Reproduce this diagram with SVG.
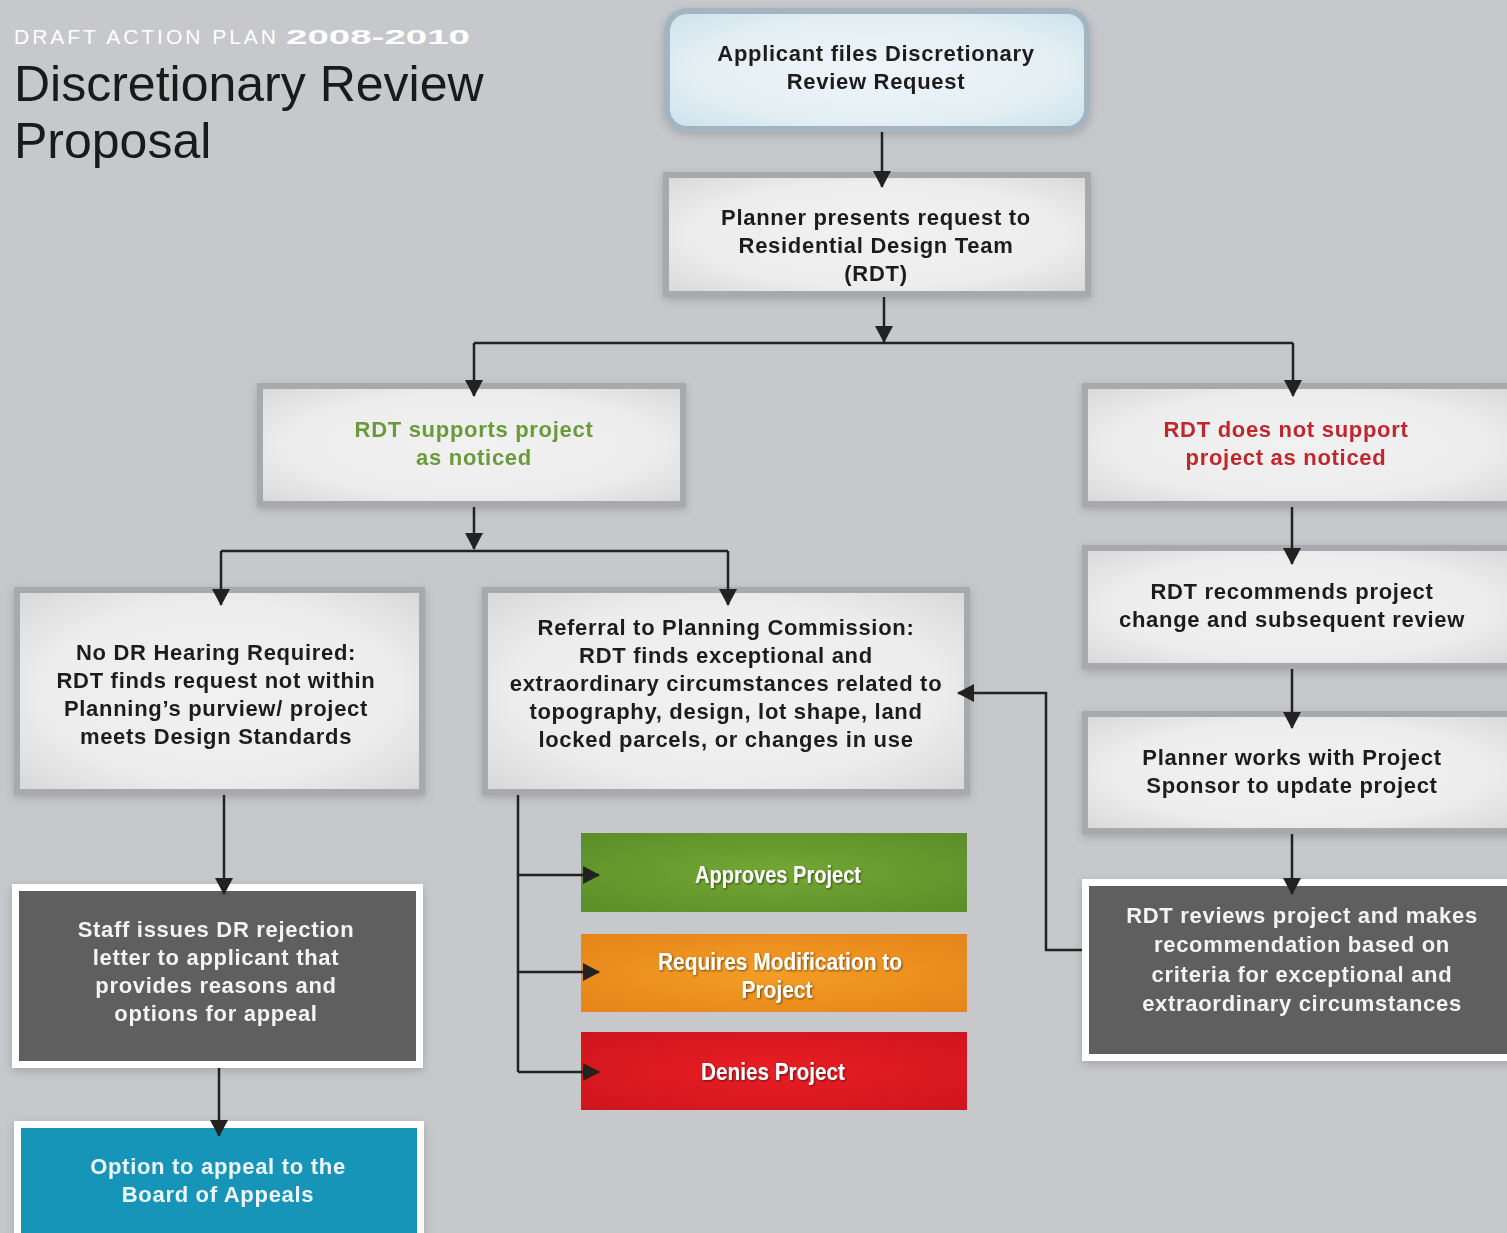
<svg xmlns="http://www.w3.org/2000/svg" width="1507" height="1233" viewBox="0 0 1507 1233">
  <defs>
    <style>
      .bt { font-family: "Liberation Sans", Arial, sans-serif; font-weight: bold; font-size: 22px; letter-spacing: 0.7px; text-anchor: middle; }
      .dark { fill: #1e1e1e; }
      .white { fill: #f4f4f4; }
      .ct { font-family: "Liberation Sans Narrow", "Liberation Sans", Arial, sans-serif; font-weight: bold; font-size: 23px; fill: #ffffff; text-anchor: middle; }
      .light { stroke: #a7a9ac; stroke-width: 6; fill: url(#lightFill); }
      .darkbox { stroke: #ffffff; stroke-width: 7; fill: #5e5e5e; }
      .conn { fill: none; stroke: #222222; stroke-width: 2.5; }
      .arrow { marker-end: url(#ah); }
    </style>
    <radialGradient id="lightFill" cx="50%" cy="50%" r="72%">
      <stop offset="0" stop-color="#f1f1f1"/>
      <stop offset="0.6" stop-color="#ededed"/>
      <stop offset="1" stop-color="#d6d6d6"/>
    </radialGradient>
    <radialGradient id="blueFill" cx="50%" cy="50%" r="72%">
      <stop offset="0" stop-color="#eef5f8"/>
      <stop offset="0.6" stop-color="#e4eff4"/>
      <stop offset="1" stop-color="#c9e0ec"/>
    </radialGradient>
    <radialGradient id="greenFill" cx="50%" cy="50%" r="72%">
      <stop offset="0" stop-color="#74a834"/>
      <stop offset="1" stop-color="#5a8c28"/>
    </radialGradient>
    <radialGradient id="orangeFill" cx="50%" cy="50%" r="72%">
      <stop offset="0" stop-color="#f49d24"/>
      <stop offset="1" stop-color="#e5831a"/>
    </radialGradient>
    <radialGradient id="redFill" cx="50%" cy="50%" r="72%">
      <stop offset="0" stop-color="#ea1d25"/>
      <stop offset="1" stop-color="#cd151d"/>
    </radialGradient>
    <filter id="shadow" x="-10%" y="-10%" width="120%" height="130%">
      <feDropShadow dx="0" dy="3" stdDeviation="5" flood-color="#000" flood-opacity="0.18"/>
    </filter>
    <filter id="tshadow" x="-10%" y="-30%" width="120%" height="160%">
      <feDropShadow dx="1" dy="1" stdDeviation="0.8" flood-color="#000" flood-opacity="0.55"/>
    </filter>
    <marker id="ah" viewBox="0 0 17 18" refX="16" refY="9" markerWidth="17" markerHeight="18" markerUnits="userSpaceOnUse" orient="auto">
      <path d="M0,0 L17,9 L0,18 Z" fill="#222222"/>
    </marker>
  </defs>

  <rect x="0" y="0" width="1507" height="1233" fill="#c6c8cb"/>

  <g id="title">
    <text x="14" y="44" font-family="Liberation Sans, Arial, sans-serif" font-size="21" fill="#ffffff" textLength="262" lengthAdjust="spacing">DRAFT ACTION PLAN</text>
    <text x="286" y="44" font-family="Liberation Sans, Arial, sans-serif" font-size="21" font-weight="bold" fill="#ffffff" textLength="184" lengthAdjust="spacingAndGlyphs">2008-2010</text>
    <text x="14" y="101" font-family="Liberation Sans, Arial, sans-serif" font-size="50" fill="#1a1a1a">Discretionary Review</text>
    <text x="14" y="158" font-family="Liberation Sans, Arial, sans-serif" font-size="50" fill="#1a1a1a">Proposal</text>
  </g>

  <g id="n-applicant" filter="url(#shadow)">
    <rect x="667" y="11" width="420" height="118" rx="20" fill="url(#blueFill)" stroke="#a2b5c1" stroke-width="6"/>
    <text class="bt dark" x="876" y="61">Applicant files Discretionary</text>
    <text class="bt dark" x="876" y="89">Review Request</text>
  </g>

  <g id="n-planner" filter="url(#shadow)">
    <rect class="light" x="666" y="175" width="422" height="119"/>
    <text class="bt dark" x="876" y="225">Planner presents request to</text>
    <text class="bt dark" x="876" y="253">Residential Design Team</text>
    <text class="bt dark" x="876" y="281">(RDT)</text>
  </g>

  <g id="n-supports" filter="url(#shadow)">
    <rect class="light" x="260" y="386" width="423" height="118"/>
    <text class="bt" fill="#6a9a3b" x="474" y="437">RDT supports project</text>
    <text class="bt" fill="#6a9a3b" x="474" y="465">as noticed</text>
  </g>

  <g id="n-notsupport" filter="url(#shadow)">
    <rect class="light" x="1085" y="386" width="430" height="118"/>
    <text class="bt" fill="#c0262d" x="1286" y="437">RDT does not support</text>
    <text class="bt" fill="#c0262d" x="1286" y="465">project as noticed</text>
  </g>

  <g id="n-nohearing" filter="url(#shadow)">
    <rect class="light" x="17" y="590" width="405" height="202"/>
    <text class="bt dark" x="216" y="660">No DR Hearing Required:</text>
    <text class="bt dark" x="216" y="688">RDT finds request not within</text>
    <text class="bt dark" x="216" y="716">Planning’s purview/ project</text>
    <text class="bt dark" x="216" y="744">meets Design Standards</text>
  </g>

  <g id="n-referral" filter="url(#shadow)">
    <rect class="light" x="485" y="590" width="482" height="202"/>
    <text class="bt dark" x="726" y="635">Referral to Planning Commission:</text>
    <text class="bt dark" x="726" y="663">RDT finds exceptional and</text>
    <text class="bt dark" x="726" y="691">extraordinary circumstances related to</text>
    <text class="bt dark" x="726" y="719">topography, design, lot shape, land</text>
    <text class="bt dark" x="726" y="747">locked parcels, or changes in use</text>
  </g>

  <g id="n-recommends" filter="url(#shadow)">
    <rect class="light" x="1085" y="548" width="430" height="118"/>
    <text class="bt dark" x="1292" y="599">RDT recommends project</text>
    <text class="bt dark" x="1292" y="627">change and subsequent review</text>
  </g>

  <g id="n-plannerworks" filter="url(#shadow)">
    <rect class="light" x="1085" y="714" width="430" height="117"/>
    <text class="bt dark" x="1292" y="765">Planner works with Project</text>
    <text class="bt dark" x="1292" y="793">Sponsor to update project</text>
  </g>

  <g id="n-rdtreviews" filter="url(#shadow)">
    <rect class="darkbox" x="1085.5" y="882.5" width="430" height="175"/>
    <text class="bt white" x="1302" y="923">RDT reviews project and makes</text>
    <text class="bt white" x="1302" y="952">recommendation based on</text>
    <text class="bt white" x="1302" y="982">criteria for exceptional and</text>
    <text class="bt white" x="1302" y="1011">extraordinary circumstances</text>
  </g>

  <g id="n-staff" filter="url(#shadow)">
    <rect class="darkbox" x="15.5" y="887.5" width="404" height="177"/>
    <text class="bt white" x="216" y="937">Staff issues DR rejection</text>
    <text class="bt white" x="216" y="965">letter to applicant that</text>
    <text class="bt white" x="216" y="993">provides reasons and</text>
    <text class="bt white" x="216" y="1021">options for appeal</text>
  </g>

  <g id="n-appeal" filter="url(#shadow)">
    <rect x="17.5" y="1124.5" width="403" height="130" fill="#1995b8" stroke="#ffffff" stroke-width="7"/>
    <text class="bt" fill="#eef7fb" x="218" y="1174">Option to appeal to the</text>
    <text class="bt" fill="#eef7fb" x="218" y="1202">Board of Appeals</text>
  </g>

  <g id="n-approves">
    <rect x="581" y="833" width="386" height="79" fill="url(#greenFill)"/>
    <text class="ct" x="778" y="883" textLength="166" lengthAdjust="spacingAndGlyphs" filter="url(#tshadow)">Approves Project</text>
  </g>

  <g id="n-requires">
    <rect x="581" y="934" width="386" height="78" fill="url(#orangeFill)"/>
    <text class="ct" x="780" y="970" textLength="244" lengthAdjust="spacingAndGlyphs" filter="url(#tshadow)">Requires Modification to</text>
    <text class="ct" x="777" y="998" textLength="71" lengthAdjust="spacingAndGlyphs" filter="url(#tshadow)">Project</text>
  </g>

  <g id="n-denies">
    <rect x="581" y="1032" width="386" height="78" fill="url(#redFill)"/>
    <text class="ct" x="773" y="1080" textLength="144" lengthAdjust="spacingAndGlyphs" filter="url(#tshadow)">Denies Project</text>
  </g>

  <g id="connectors">
    <path class="conn arrow" d="M882,132 V187"/>
    <path class="conn arrow" d="M884,297 V342"/>
    <path class="conn" d="M474,343 H1293"/>
    <path class="conn arrow" d="M474,343 V396"/>
    <path class="conn arrow" d="M1293,343 V396"/>
    <path class="conn arrow" d="M474,507 V549"/>
    <path class="conn" d="M221,551 H728"/>
    <path class="conn arrow" d="M221,551 V605"/>
    <path class="conn arrow" d="M728,551 V605"/>
    <path class="conn arrow" d="M1292,507 V564"/>
    <path class="conn arrow" d="M1292,669 V728"/>
    <path class="conn arrow" d="M1292,834 V894"/>
    <path class="conn arrow" d="M1082,950 H1046 V693 H958"/>
    <path class="conn arrow" d="M224,795 V894"/>
    <path class="conn arrow" d="M219,1068 V1136"/>
    <path class="conn" d="M518,795 V1072"/>
    <path class="conn arrow" d="M518,875 H599"/>
    <path class="conn arrow" d="M518,972 H599"/>
    <path class="conn arrow" d="M518,1072 H599"/>
  </g>
</svg>
